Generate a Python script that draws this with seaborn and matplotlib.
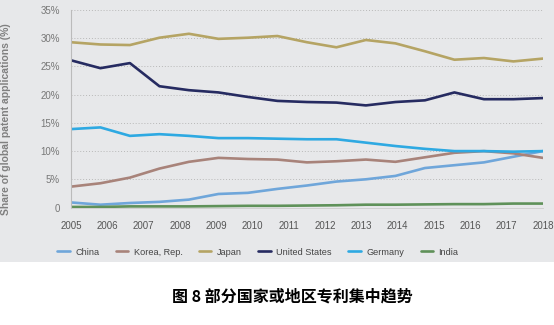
import numpy as np
import pandas as pd
import matplotlib
matplotlib.use("Agg")
import matplotlib.pyplot as plt
import seaborn as sns
from matplotlib.patches import Rectangle

years = list(range(2005, 2019))
n_points = 17
countries = ["China", "Korea, Rep.", "Japan", "United States", "Germany", "India"]
china = [0.9, 0.5, 0.8, 1.0, 1.4, 2.4, 2.6, 3.3, 3.9, 4.6, 5.0, 5.6, 7.0, 7.5, 8.0, 9.0, 10.0]
korea = [3.7, 4.3, 5.3, 6.9, 8.1, 8.8, 8.6, 8.5, 8.0, 8.2, 8.5, 8.1, 8.9, 9.7, 10.0, 9.6, 8.8]
japan = [29.3, 28.9, 28.8, 30.1, 30.8, 29.9, 30.1, 30.4, 29.3, 28.4, 29.7, 29.1, 27.7, 26.2, 26.5, 25.9, 26.4]
usa = [26.1, 24.7, 25.6, 21.5, 20.8, 20.4, 19.6, 18.9, 18.7, 18.6, 18.1, 18.7, 19.0, 20.4, 19.2, 19.2, 19.4]
germany = [13.9, 14.2, 12.7, 13.0, 12.7, 12.3, 12.3, 12.2, 12.1, 12.1, 11.5, 10.9, 10.4, 10.0, 10.0, 9.9, 10.0]
india = [0.1, 0.1, 0.2, 0.2, 0.2, 0.25, 0.3, 0.3, 0.35, 0.4, 0.5, 0.5, 0.55, 0.6, 0.6, 0.7, 0.7]
colors = ["#6fa6da", "#a8837a", "#b5a464", "#262b61", "#2ea9e2", "#5f9159"]
yticks = [0, 5, 10, 15, 20, 25, 30, 35]
ytick_labels = ["0", "5%", "10%", "15%", "20%", "25%", "30%", "35%"]
ylabel = "Share of global patent applications (%)"
caption = "图 8 部分国家或地区专利集中趋势"

xs = np.linspace(years[0], years[-1], n_points)
series = [china, korea, japan, usa, germany, india]
df = pd.concat([pd.DataFrame({"x": xs, "share": s, "country": c}) for c, s in zip(countries, series)])

sns.set_theme(style="white")
plt.rcParams['font.family'] = ['Liberation Sans', 'DejaVu Sans']

bg = "#e7e8ea"
fig = plt.figure(figsize=(5.54, 3.25), dpi=100, facecolor="white")
fig.patches.append(Rectangle((0, 0.194), 1, 0.806, transform=fig.transFigure,
                             facecolor=bg, edgecolor="none", zorder=-10))
ax = fig.add_axes([0.128, 0.3615, 0.852, 0.6075])
ax.set_facecolor(bg)

sns.lineplot(data=df, x="x", y="share", hue="country", hue_order=countries,
             palette=colors, linewidth=1.9, ax=ax, legend=True)

ax.set_xlim(years[0], years[-1])
ax.set_ylim(0, 35)
ax.set_xticks(years)
ax.set_xticklabels([str(y) for y in years], fontsize=7, color="#555555")
ax.set_yticks(yticks)
ax.set_yticklabels(ytick_labels, fontsize=7, color="#777777")
for y in yticks[1:]:
    ax.axhline(y, color="#b8b8b8", linestyle=(0, (1, 2)), linewidth=0.7, zorder=0)
ax.tick_params(axis="x", direction="out", length=6, width=0.6, color="#bbbbbb", pad=4)
ax.tick_params(axis="y", length=0, pad=8)
for s in ["top", "right"]:
    ax.spines[s].set_visible(False)
ax.spines["left"].set_color("#bbbbbb")
ax.spines["left"].set_linewidth(0.8)
ax.spines["bottom"].set_color("#cccccc")
ax.spines["bottom"].set_linewidth(0.6)
ax.set_xlabel("")
ax.set_ylabel(ylabel, fontsize=7.5, color="#808080", fontweight="bold")
ax.yaxis.set_label_coords(-0.127, 0.45)

handles, labels = ax.get_legend_handles_labels()
ax.legend(handles, labels, loc="center", bbox_to_anchor=(0.396, -0.226), ncol=6,
          frameon=False, fontsize=6.6, handlelength=1.35, handletextpad=0.6,
          columnspacing=1.8, labelcolor="#444444")

fig.text(0.528, 0.087, caption, ha="center", va="center", fontsize=11.5,
         fontweight="bold", family=["Noto Sans CJK SC", "DejaVu Sans"], color="black")

fig.savefig("out.png", dpi=100, facecolor="white")
